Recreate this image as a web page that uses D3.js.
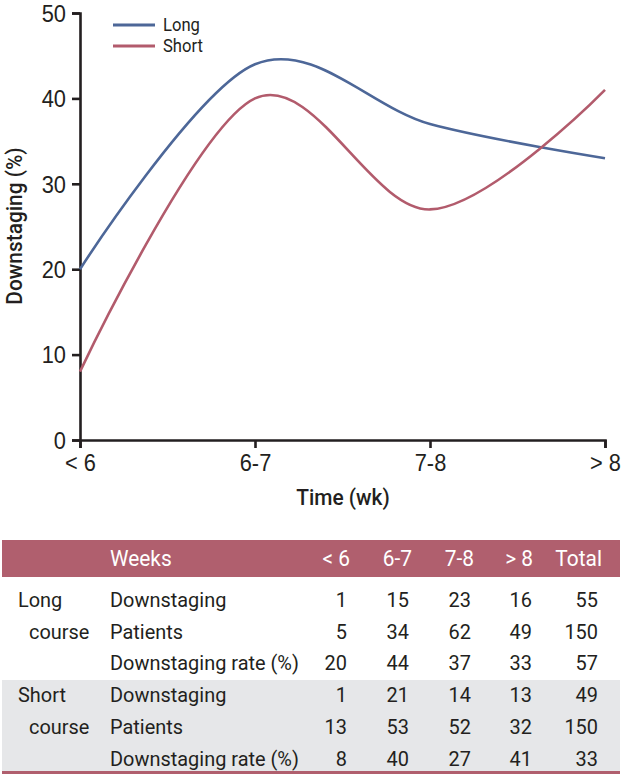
<!DOCTYPE html>
<html><head><meta charset="utf-8">
<script src="https://cdn.jsdelivr.net/npm/d3@7"></script>
<style>
body{margin:0;background:#fff;}
svg{display:block;font-family:"Roboto","Liberation Sans",sans-serif;}
</style></head>
<body><svg id="c" width="623" height="776"></svg>
<script>
const categories = ["< 6","6-7","7-8","> 8"];
const longRate = [20,44,37,33];
const shortRate = [8,40,27,41];
const yTicks = [0,10,20,30,40,50];
const seriesNames = ["Long","Short"];
const seriesColors = ["#4d6798","#b25b6c"];
const tableHeader = ["Weeks","< 6","6-7","7-8","> 8","Total"];
const groupLabels = [["Long","course"],["Short","course"]];
const rowLabels = ["Downstaging","Patients","Downstaging rate (%)"];
const longTable = [[1,15,23,16,55],[5,34,62,49,150],[20,44,37,33,57]];
const shortTable = [[1,21,14,13,49],[13,53,52,32,150],[8,40,27,41,33]];

const svg = d3.select("#c");
const ink = "#231f20";

// condensed-font emulation: horizontal scale factor
const probe = svg.append("text").style("font-size","21px").text(rowLabels[2]);
const S = 189 / probe.node().getComputedTextLength();
probe.remove();

function txt(g, x, yy, str, opts={}) {
  return g.append("text")
    .attr("transform", `translate(${x},${yy}) scale(${S},1)`)
    .attr("dy", opts.dy || "0.35em")
    .attr("text-anchor", opts.anchor || "start")
    .attr("fill", opts.fill || ink)
    .style("font-size", opts.size || "21px")
    .style("font-weight", opts.weight || "normal")
    .text(str);
}

const x = d3.scalePoint().domain(categories).range([80,605]);
const y = d3.scaleLinear().domain([0,50]).range([440,13]);

// axes
const ya = svg.append("g").attr("transform","translate(80,0)")
  .call(d3.axisLeft(y).tickValues(yTicks).tickSize(8).tickPadding(6));
const xa = svg.append("g").attr("transform","translate(0,440)")
  .call(d3.axisBottom(x).tickSize(8).tickPadding(6));
[ya,xa].forEach(g=>{
  g.select(".domain").attr("stroke",ink).attr("stroke-width",2.6);
  g.selectAll(".tick line").attr("stroke",ink).attr("stroke-width",2.6);
  g.selectAll(".tick text").attr("fill",ink).style("font-size","23px")
    .each(function(){
      const el = d3.select(this);
      const xx = +el.attr("x") || 0;
      el.attr("x", xx / S).attr("transform", `scale(${S},1)`);
    });
});
ya.selectAll(".tick text").attr("dy","0.36em");
xa.selectAll(".tick text").attr("dy","0.75em");

svg.append("text").attr("transform",`translate(22,226) rotate(-90) scale(${S},1)`)
  .attr("text-anchor","middle").attr("fill",ink)
  .style("font-size","22px").style("font-weight","500").text("Downstaging (%)");
txt(svg, 343, 505, "Time (wk)", {anchor:"middle", dy:"0", size:"22px", weight:"500"});

// lines (uniform Catmull-Rom smoothing)
const line = d3.line().x((d,i)=>x(categories[i])).y(d=>y(d)).curve(d3.curveCardinal.tension(0));
[longRate,shortRate].forEach((s,i)=>{
  svg.append("path").attr("d",line(s)).attr("fill","none")
    .attr("stroke",seriesColors[i]).attr("stroke-width",2.6);
});

// legend
seriesNames.forEach((n,i)=>{
  const ly = 25 + i*21;
  svg.append("line").attr("x1",113).attr("x2",155).attr("y1",ly).attr("y2",ly)
    .attr("stroke",seriesColors[i]).attr("stroke-width",3);
  txt(svg, 163, ly, n, {size:"17.5px"});
});

// table
const hdrColor = "#b05f6e";
svg.append("rect").attr("x",2).attr("y",540).attr("width",618).attr("height",37).attr("fill",hdrColor);
svg.append("rect").attr("x",2).attr("y",680).attr("width",618).attr("height",92).attr("fill","#e6e7e9");
svg.append("rect").attr("x",2).attr("y",771).attr("width",618).attr("height",3).attr("fill",hdrColor);

const colRight = [350,412,474,533,602];
const numRight = [347,409,471,532,598];
txt(svg, 110, 558, tableHeader[0], {fill:"#fff", size:"22px"});
tableHeader.slice(1).forEach((h,i)=>{
  txt(svg, colRight[i], 558, h, {fill:"#fff", size:"22px", anchor:"end"});
});
const rowY = [600,632,663,695,727,759];
[longTable,shortTable].forEach((tbl,g)=>{
  const gl = groupLabels[g];
  txt(svg, 18, rowY[g*3], gl[0]);
  txt(svg, 29, rowY[g*3+1], gl[1]);
  tbl.forEach((row,r)=>{
    const yy = rowY[g*3+r];
    txt(svg, 110, yy, rowLabels[r]);
    row.forEach((v,c)=>{
      txt(svg, numRight[c], yy, v, {anchor:"end"});
    });
  });
});
</script></body></html>
